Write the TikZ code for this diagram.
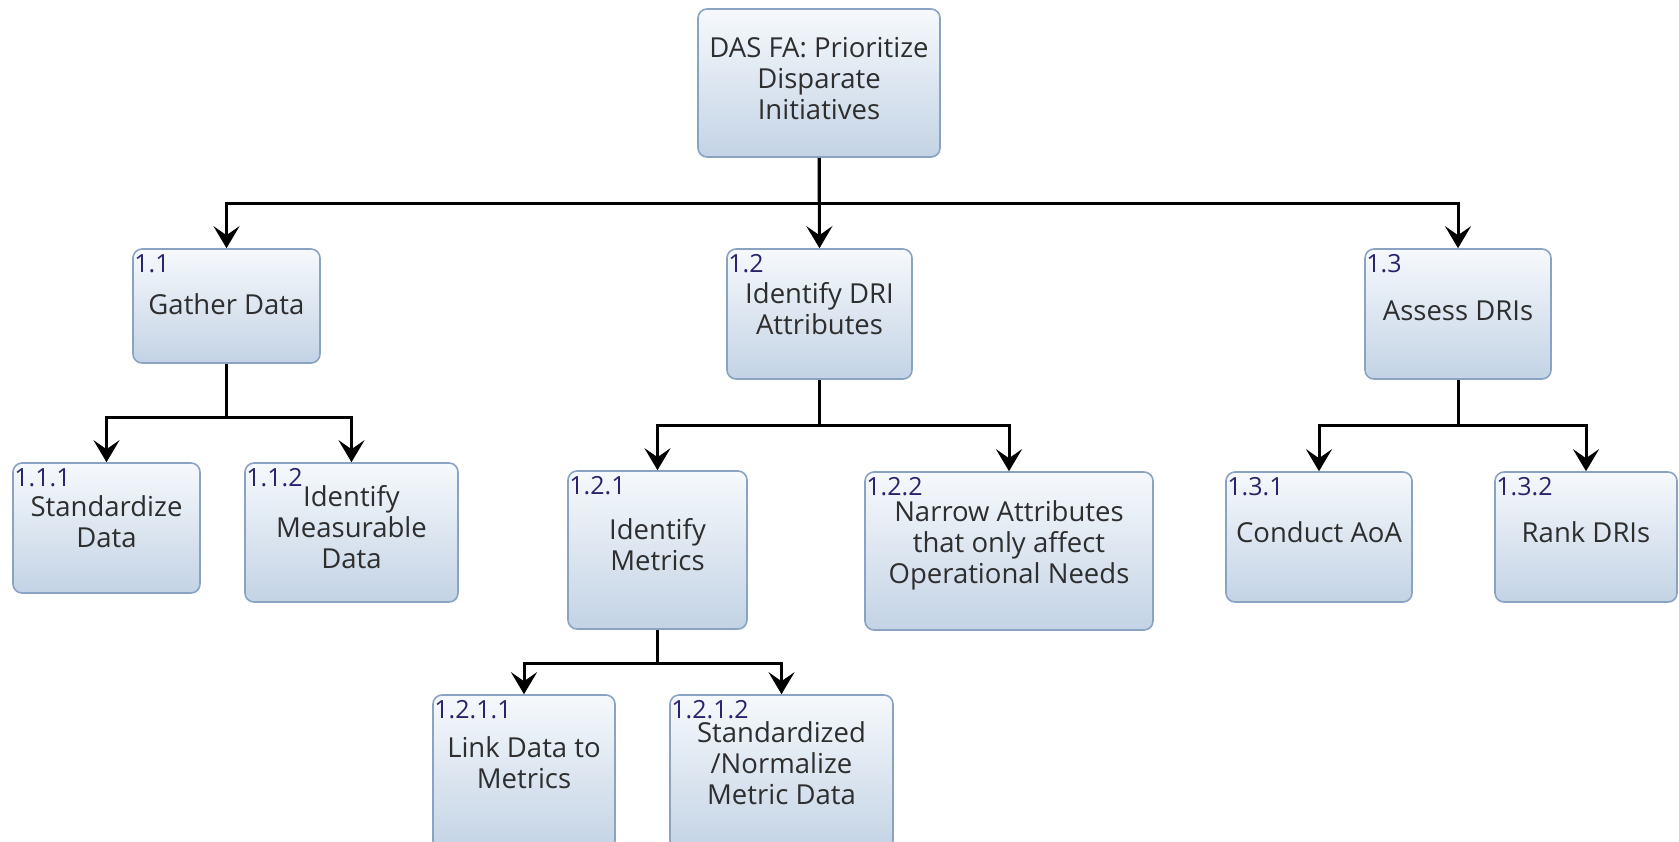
\documentclass[tikz,border=0pt]{standalone}
\usepackage{fontspec}
\setmainfont{Open Sans}
\usetikzlibrary{arrows.meta}
\definecolor{boxedge}{HTML}{8AA3C2}
\definecolor{boxtop}{HTML}{F6F9FC}
\definecolor{boxbot}{HTML}{C3D3E5}
\definecolor{numcol}{HTML}{27246E}
\definecolor{txtcol}{HTML}{2E2E2E}
\tikzset{
  taskbox/.style={draw=boxedge, line width=1.6pt, rounded corners=9pt,
    top color=boxtop, bottom color=boxbot, inner sep=0pt},
  tasktext/.style={align=center, text=txtcol, inner sep=0pt,
    font=\fontsize{27.5}{31}\selectfont},
  tasknum/.style={anchor=base west, text=numcol, inner sep=0pt,
    font=\fontsize{25}{28}\selectfont},
  link/.style={line width=3pt, -{Stealth[length=22pt,width=26pt,inset=9pt]}},
}
% box: name, centre x, centre y, width, height
\newcommand{\taskbox}[5]{%
  \node[taskbox, minimum width=#4pt, minimum height=#5pt] (#1) at (#2,#3) {};}
\begin{document}
\begin{tikzpicture}[x=1pt,y=-1pt]
\useasboundingbox (0,0) rectangle (1679,841);
\clip (0,0) rectangle (1679,841);
\fill[white] (0,0) rectangle (1679,841);

% boxes
\taskbox{root}{819}{83}{242}{148}
\taskbox{t1}{226.5}{306}{187}{114}
\taskbox{t2}{819.5}{314}{185}{130}
\taskbox{t3}{1458}{314}{186}{130}
\taskbox{t11}{106.5}{528}{187}{130}
\taskbox{t12}{351.5}{532.5}{213}{139}
\taskbox{t21}{657.5}{550}{179}{158}
\taskbox{t22}{1009}{551}{288}{158}
\taskbox{t31}{1319}{537}{186}{130}
\taskbox{t32}{1586}{537}{182}{130}
\taskbox{t211}{524}{772.5}{182}{155}
\taskbox{t212}{781.5}{772.5}{223}{155}

% numbers
\node[tasknum] (t1n) at ([xshift=2pt,yshift=-24pt]t1.north west) {1.1};
\node[tasknum] (t2n) at ([xshift=2pt,yshift=-24pt]t2.north west) {1.2};
\node[tasknum] (t3n) at ([xshift=2pt,yshift=-24pt]t3.north west) {1.3};
\node[tasknum] (t11n) at ([xshift=2pt,yshift=-24pt]t11.north west) {1.1.1};
\node[tasknum] (t12n) at ([xshift=2pt,yshift=-24pt]t12.north west) {1.1.2};
\node[tasknum] (t21n) at ([xshift=2pt,yshift=-24pt]t21.north west) {1.2.1};
\node[tasknum] (t22n) at ([xshift=2pt,yshift=-24pt]t22.north west) {1.2.2};
\node[tasknum] (t31n) at ([xshift=2pt,yshift=-24pt]t31.north west) {1.3.1};
\node[tasknum] (t32n) at ([xshift=2pt,yshift=-24pt]t32.north west) {1.3.2};
\node[tasknum] (t211n) at ([xshift=2pt,yshift=-24pt]t211.north west) {1.2.1.1};
\node[tasknum] (t212n) at ([xshift=2pt,yshift=-24pt]t212.north west) {1.2.1.2};

% texts
\node[tasktext] (roott) at (819,78.5) {DAS FA: Prioritize\\Disparate\\Initiatives};
\node[tasktext] (t1t) at (226.5,304) {Gather Data};
\node[tasktext] (t2t) at (819.5,309) {Identify DRI\\Attributes};
\node[tasktext] (t3t) at (1458,310.5) {Assess DRIs};
\node[tasktext] (t11t) at (106.5,522) {Standardize\\Data};
\node[tasktext] (t12t) at (351.5,527) {Identify\\Measurable\\Data};
\node[tasktext] (t21t) at (657.5,544.5) {Identify\\Metrics};
\node[tasktext] (t22t) at (1009,545) {Narrow Attributes\\that only affect\\Operational Needs};
\node[tasktext] (t31t) at (1319,532) {Conduct AoA};
\node[tasktext] (t32t) at (1586,532) {Rank DRIs};
\node[tasktext] (t211t) at (524,763) {Link Data to\\Metrics};
\node[tasktext] (t212t) at (781.5,763) {Standardized\\/Normalize\\Metric Data};

% branch levels
\coordinate (b0) at (819,203);
\coordinate (b1) at (226.5,417);
\coordinate (b2) at (819.5,425);
\coordinate (b3) at (1458,425);
\coordinate (b21) at (657.5,663);

% connectors
\draw[link] (root.south) |- (b0) -| (t1.north);
\draw[link] (root.south) -- (t2.north);
\draw[link] (b0) -| (t3.north);
\draw[link] (t1.south) |- (b1) -| (t11.north);
\draw[link] (b1) -| (t12.north);
\draw[link] (t2.south) |- (b2) -| (t21.north);
\draw[link] (b2) -| (t22.north);
\draw[link] (t3.south) |- (b3) -| (t31.north);
\draw[link] (b3) -| (t32.north);
\draw[link] (t21.south) |- (b21) -| (t211.north);
\draw[link] (b21) -| (t212.north);
\end{tikzpicture}
\end{document}
